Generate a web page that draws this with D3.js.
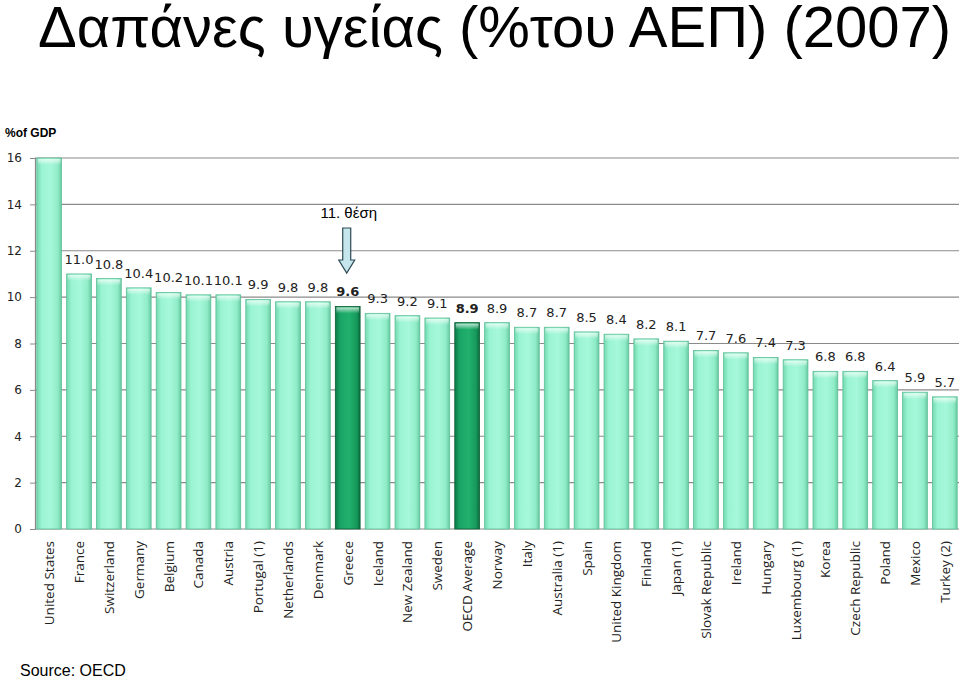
<!DOCTYPE html>
<html><head><meta charset="utf-8">
<script src="https://cdn.jsdelivr.net/npm/d3@7"></script>
<style>body{margin:0;background:#fff}svg{display:block}</style>
</head><body><svg id="c" width="960" height="678"></svg>
<script>
const countries = ["United States","France","Switzerland","Germany","Belgium","Canada","Austria","Portugal (1)","Netherlands","Denmark","Greece","Iceland","New Zealand","Sweden","OECD Average","Norway","Italy","Australia (1)","Spain","United Kingdom","Finland","Japan (1)","Slovak Republic","Ireland","Hungary","Luxembourg (1)","Korea","Czech Republic","Poland","Mexico","Turkey (2)"];
const values = [16.0,11.0,10.8,10.4,10.2,10.1,10.1,9.9,9.8,9.8,9.6,9.3,9.2,9.1,8.9,8.9,8.7,8.7,8.5,8.4,8.2,8.1,7.7,7.6,7.4,7.3,6.8,6.8,6.4,5.9,5.7];
const highlighted = ["Greece","OECD Average"];
const yTicks = [0,2,4,6,8,10,12,14,16];

const svg = d3.select("#c");
const defs = svg.append("defs");
function grad(id, stops){
  const g = defs.append("linearGradient").attr("id",id).attr("x1","0%").attr("x2","100%").attr("y1","0%").attr("y2","0%");
  stops.forEach(([o,c])=>g.append("stop").attr("offset",o).attr("stop-color",c));
}
grad("gl",[["0%","#72d9b0"],["20%","#9af4d2"],["55%","#a6f8da"],["85%","#90ecc8"],["100%","#66c9a1"]]);
grad("gd",[["0%","#0b7a46"],["20%","#1aa565"],["55%","#22b06e"],["85%","#179b5c"],["100%","#0a6e3f"]]);
const hg = defs.append("linearGradient").attr("id","hl").attr("x1","0").attr("x2","0").attr("y1","0").attr("y2","1");
hg.append("stop").attr("offset","0").attr("stop-color","#ffffff").attr("stop-opacity",0.7);
hg.append("stop").attr("offset","1").attr("stop-color","#ffffff").attr("stop-opacity",0);

const x = d3.scaleBand().domain(countries).range([35,959]).paddingInner(0.17).paddingOuter(0.06);
const y = d3.scaleLinear().domain([0,16]).range([529,158]);

// gridlines
svg.append("g").selectAll("line").data(yTicks.filter(d=>d>0)).join("line")
  .attr("x1",35).attr("x2",959).attr("y1",d=>y(d)).attr("y2",d=>y(d))
  .attr("stroke","#8a8a8a").attr("stroke-width",1.2);

// y axis
const yAxis = svg.append("g").attr("transform","translate(35,0)")
  .call(d3.axisLeft(y).tickValues(yTicks).tickSize(5).tickPadding(8).tickFormat(d3.format("d")));
yAxis.select(".domain").attr("stroke","#8a8a8a").attr("stroke-width",1.2);
yAxis.selectAll(".tick line").attr("stroke","#8a8a8a");
yAxis.selectAll("text").attr("font-family","DejaVu Sans").attr("font-size",12).attr("fill","#222");

// x baseline
svg.append("line").attr("x1",35).attr("x2",959).attr("y1",y(0)).attr("y2",y(0)).attr("stroke","#8a8a8a").attr("stroke-width",1.2);

// bars
const bars = svg.append("g").selectAll("g").data(countries).join("g");
bars.append("rect")
  .attr("x",d=>x(d)).attr("width",x.bandwidth())
  .attr("y",(d,i)=>y(values[i])).attr("height",(d,i)=>y(0)-y(values[i]))
  .attr("fill",d=>highlighted.includes(d)?"url(#gd)":"url(#gl)")
  .attr("stroke",d=>highlighted.includes(d)?"#0a5e35":"#5fbf98").attr("stroke-width",0.8);
bars.append("rect")
  .attr("x",d=>x(d)+1).attr("width",x.bandwidth()-2)
  .attr("y",(d,i)=>y(values[i])+1).attr("height",6)
  .attr("fill","url(#hl)");

// value labels
svg.append("g").selectAll("text").data(countries).join("text")
  .filter((d,i)=>i>0)
  .attr("x",d=>x(d)+x.bandwidth()/2)
  .attr("y",d=>y(values[countries.indexOf(d)])-10)
  .attr("text-anchor","middle")
  .attr("font-family","DejaVu Sans").attr("font-size",13)
  .attr("font-weight",d=>highlighted.includes(d)?"bold":"normal")
  .attr("fill","#222")
  .text(d=>values[countries.indexOf(d)].toFixed(1));

// x labels
svg.append("g").selectAll("text").data(countries).join("text")
  .attr("transform",d=>`translate(${x(d)+x.bandwidth()/2+5},541) rotate(-90)`)
  .attr("text-anchor","end")
  .attr("font-family","Open Sans").attr("font-size",13.5).attr("fill","#222")
  .text(d=>d);

// title
svg.append("text").attr("x",38).attr("y",47)
  .attr("font-family","Liberation Sans").attr("font-size",58).attr("fill","#000")
  .text("Δαπάνες υγείας (%του ΑΕΠ) (2007)");

svg.append("text").attr("x",5).attr("y",137)
  .attr("font-family","Liberation Sans").attr("font-weight","bold").attr("font-size",12).attr("fill","#000")
  .text("%of GDP");

// annotation
const gx = x("Greece")+x.bandwidth()/2 - 1;
svg.append("text").attr("x",gx+2).attr("y",218).attr("text-anchor","middle")
  .attr("font-family","Liberation Sans").attr("font-size",15).attr("fill","#000")
  .text("11. θέση");
const aTop=228, aNeck=260, aTip=273, sw=4, hw=8;
svg.append("path")
  .attr("d",`M${gx-sw},${aTop} L${gx+sw},${aTop} L${gx+sw},${aNeck} L${gx+hw},${aNeck} L${gx},${aTip} L${gx-hw},${aNeck} L${gx-sw},${aNeck} Z`)
  .attr("fill","#c4e6ec").attr("stroke","#2d4a55").attr("stroke-width",1.2);

svg.append("text").attr("x",20).attr("y",676)
  .attr("font-family","Liberation Sans").attr("font-size",16).attr("fill","#000")
  .text("Source: OECD");
</script></body></html>
